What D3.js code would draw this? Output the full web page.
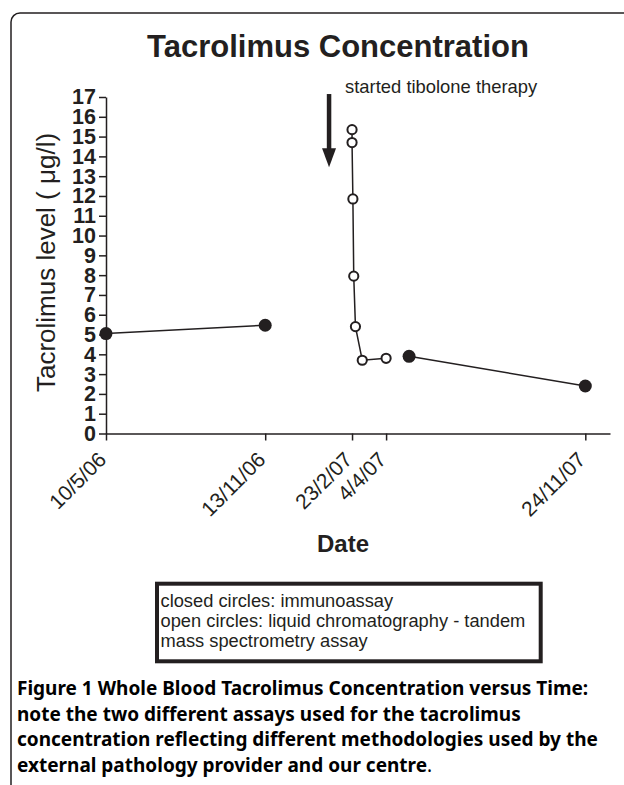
<!DOCTYPE html>
<html>
<head>
<meta charset="utf-8">
<script src="https://cdn.jsdelivr.net/npm/d3@7"></script>
<style>
body { margin: 0; background: #fff; }
</style>
</head>
<body>
<script>
// Data (dates d/m/yy, tacrolimus level in ug/l)
var tickDates = ["10/5/06", "13/11/06", "23/2/07", "4/4/07", "24/11/07"];
var yTicks = [0, 1, 2, 3, 4, 5, 6, 7, 8, 9, 10, 11, 12, 13, 14, 15, 16, 17];

// closed circles: immunoassay (two separate runs)
var immunoFirst = [["10/5/06", 5.05], ["13/11/06", 5.47]];
var immunoSecond = [["1/5/07", 3.9], ["24/11/07", 2.4]];
// open circles: LC-MS/MS
var lcmsDates = ["23/2/07", "23/2/07", "24/2/07", "25/2/07", "27/2/07", "7/3/07", "4/4/07"];
var lcmsValues = [15.35, 14.7, 11.85, 7.95, 5.4, 3.7, 3.8];

// arrow annotation
var arrowDate = "27/1/07";
var arrowFrom = 17.15, arrowTo = 13.45;
var noteText = "started tibolone therapy";

var legendLines = [
  "closed circles: immunoassay",
  "open circles: liquid chromatography - tandem",
  "mass spectrometry assay"
];
var captionLines = [
  [["Figure 1 ", 700], ["Whole Blood Tacrolimus Concentration versus Time:", 700]],
  [["note the two different assays used for the tacrolimus", 700]],
  [["concentration reflecting different methodologies used by the", 700]],
  [["external pathology provider and our centre", 700], [".", 400]]
];

var W = 624, H = 785;
var ink = "#231f20";
var font = "'Liberation Sans', Arial, Helvetica, sans-serif";

var parse = d3.timeParse("%d/%m/%y");
var fmt = function(d) { return d.getDate() + "/" + (d.getMonth() + 1) + "/" + d3.timeFormat("%y")(d); };

var svg = d3.select("body").append("svg")
  .attr("width", W)
  .attr("height", H)
  .style("font-family", font);

// frame with rounded top-left corner
svg.append("path")
  .attr("d", "M11,785 V22 A9,9 0 0 1 20,13 H624")
  .attr("fill", "none")
  .attr("stroke", ink)
  .attr("stroke-width", 1.5);

// scales
var x = d3.scaleTime()
  .domain([parse("10/5/06"), parse("23/12/07")])
  .range([106, 610]);
var y = d3.scaleLinear()
  .domain([0, 17])
  .range([433.5, 97]);

// title
svg.append("text")
  .attr("x", 338).attr("y", 56.5)
  .attr("text-anchor", "middle")
  .attr("font-size", 31).attr("font-weight", "bold")
  .attr("fill", ink)
  .text("Tacrolimus Concentration");

// y axis
var yAxis = svg.append("g")
  .attr("transform", "translate(106,0)")
  .call(d3.axisLeft(y).tickValues(yTicks).tickSize(7).tickSizeOuter(0).tickPadding(3));
yAxis.selectAll("text")
  .attr("font-size", 21.5).attr("font-weight", "bold")
  .attr("font-family", font).attr("fill", ink);

// x axis
var xAxis = svg.append("g")
  .attr("transform", "translate(0,433.5)")
  .call(d3.axisBottom(x).tickValues(tickDates.map(parse)).tickFormat(fmt).tickSize(7).tickSizeOuter(0));
xAxis.selectAll("text")
  .attr("x", 0).attr("y", 0).attr("dy", 0)
  .attr("text-anchor", "end")
  .attr("transform", "translate(1,27.5) rotate(-45)")
  .attr("font-size", 21).attr("font-family", font).attr("fill", ink);

svg.selectAll(".domain, .tick line")
  .attr("stroke", ink).attr("stroke-width", 1.5);

// axis titles
svg.append("text")
  .attr("transform", "translate(54.5," + 262.5 + ") rotate(-90)")
  .attr("text-anchor", "middle")
  .attr("font-size", 26)
  .attr("fill", ink)
  .text("Tacrolimus level ( \u03bcg/l)");

svg.append("text")
  .attr("x", 343).attr("y", 552)
  .attr("text-anchor", "middle")
  .attr("font-size", 24).attr("font-weight", "bold")
  .attr("fill", ink)
  .text("Date");

// series
var line = d3.line()
  .x(function(d) { return x(parse(d[0])); })
  .y(function(d) { return y(d[1]); });

var lcms = lcmsDates.map(function(d, i) { return [d, lcmsValues[i]]; });

[immunoFirst, lcms, immunoSecond].forEach(function(s) {
  svg.append("path")
    .datum(s)
    .attr("d", line)
    .attr("fill", "none")
    .attr("stroke", ink)
    .attr("stroke-width", 1.5);
});

svg.selectAll("circle.closed")
  .data(immunoFirst.concat(immunoSecond))
  .enter().append("circle")
  .attr("class", "closed")
  .attr("cx", function(d) { return x(parse(d[0])); })
  .attr("cy", function(d) { return y(d[1]); })
  .attr("r", 6.5)
  .attr("fill", ink);

svg.selectAll("circle.open")
  .data(lcms)
  .enter().append("circle")
  .attr("class", "open")
  .attr("cx", function(d) { return x(parse(d[0])); })
  .attr("cy", function(d) { return y(d[1]); })
  .attr("r", 4.6)
  .attr("fill", "#fff")
  .attr("stroke", ink)
  .attr("stroke-width", 2);

// arrow annotation
var ax = x(parse(arrowDate));
var y1 = y(arrowFrom), y2 = y(arrowTo);
svg.append("line")
  .attr("x1", ax).attr("x2", ax)
  .attr("y1", y1).attr("y2", y2 - 14)
  .attr("stroke", ink).attr("stroke-width", 4.5);
svg.append("path")
  .attr("d", "M" + (ax - 7) + "," + (y2 - 19) + " L" + (ax + 7) + "," + (y2 - 19) + " L" + ax + "," + y2 + " Z")
  .attr("fill", ink);

svg.append("text")
  .attr("x", ax + 16).attr("y", 93)
  .attr("font-size", 18.4)
  .attr("fill", ink)
  .text(noteText);

// legend box
svg.append("rect")
  .attr("x", 157).attr("y", 583.7)
  .attr("width", 383.7).attr("height", 77.6)
  .attr("fill", "none")
  .attr("stroke", ink)
  .attr("stroke-width", 4);

svg.selectAll("text.legend")
  .data(legendLines)
  .enter().append("text")
  .attr("class", "legend")
  .attr("x", 160.5)
  .attr("y", function(d, i) { return 606.7 + i * 20; })
  .attr("font-size", 18.3)
  .attr("fill", ink)
  .text(function(d) { return d; });

// caption
var cap = svg.selectAll("text.caption")
  .data(captionLines)
  .enter().append("text")
  .attr("class", "caption")
  .attr("x", 17)
  .attr("y", function(d, i) { return 695 + i * 25.7; })
  .attr("font-family", "'Noto Sans', 'Open Sans', sans-serif")
  .attr("font-size", 19)
  .attr("fill", "#000");
cap.selectAll("tspan")
  .data(function(d) { return d; })
  .enter().append("tspan")
  .attr("font-weight", function(d) { return d[1]; })
  .text(function(d) { return d[0]; });
</script>
</body>
</html>
